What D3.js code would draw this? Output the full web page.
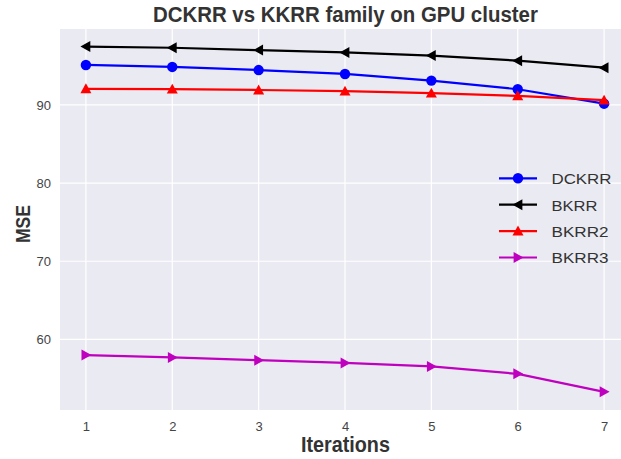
<!DOCTYPE html>
<html><head><meta charset="utf-8">
<script src="https://cdn.jsdelivr.net/npm/d3@7"></script>
<style>body{margin:0;background:#fff;}svg{display:block;}</style>
</head><body>
<svg id="c" width="621" height="459"></svg>
<script>
const iterations = [1,2,3,4,5,6,7];
const dckrr = [95.1, 94.85, 94.45, 93.95, 93.1, 92.0, 90.15];
const bkrr  = [97.45, 97.3, 97.0, 96.7, 96.3, 95.65, 94.75];
const bkrr2 = [92.05, 92.0, 91.9, 91.75, 91.5, 91.15, 90.6];
const bkrr3 = [58.0, 57.7, 57.35, 57.0, 56.55, 55.6, 53.3];
const yTicks = [60,70,80,90];
const seriesNames = ["DCKRR","BKRR","BKRR2","BKRR3"];

const series = [
  {name: seriesNames[0], values: dckrr, color: "#0000ff", marker: "circle", tl: 60},
  {name: seriesNames[1], values: bkrr,  color: "#000000", marker: "left", tl: 46},
  {name: seriesNames[2], values: bkrr2, color: "#ff0000", marker: "up", tl: 57},
  {name: seriesNames[3], values: bkrr3, color: "#bf00bf", marker: "right", tl: 57}
];

const svg = d3.select("#c");
const L = 60, T = 29, R = 630, B = 410;
const x = d3.scaleLinear().domain([0.7, 7.3]).range([L, R]);
const y = d3.scaleLinear().domain([50.98, 99.7]).range([B, T]);

svg.append("rect").attr("x", L).attr("y", T).attr("width", R - L).attr("height", B - T).attr("fill", "#eaeaf2");

// grid
svg.append("g").selectAll("line").data(iterations).join("line")
  .attr("x1", d => x(d)).attr("x2", d => x(d)).attr("y1", T).attr("y2", B)
  .attr("stroke", "#fff").attr("stroke-width", 1.2);
svg.append("g").selectAll("line").data(yTicks).join("line")
  .attr("x1", L).attr("x2", R).attr("y1", d => y(d)).attr("y2", d => y(d))
  .attr("stroke", "#fff").attr("stroke-width", 1.2);

// axes (labels only)
const xAxis = svg.append("g").attr("transform", `translate(0,${B})`)
  .call(d3.axisBottom(x).tickValues(iterations).tickSize(0).tickPadding(12).tickFormat(d3.format("d")));
const yAxis = svg.append("g").attr("transform", `translate(${L},0)`)
  .call(d3.axisLeft(y).tickValues(yTicks).tickSize(0).tickPadding(9).tickFormat(d3.format("d")));
[xAxis, yAxis].forEach(a => {
  a.select(".domain").remove();
  a.selectAll("text").attr("font-family", "'Liberation Sans Narrow', 'Liberation Sans', Arial, sans-serif")
    .attr("font-size", 13).attr("fill", "#444");
});

function markerPath(type, cx, cy) {
  const r = 5.5;
  if (type === "left") return `M${cx - r},${cy} L${cx + r * 0.8},${cy - r} L${cx + r * 0.8},${cy + r} Z`;
  if (type === "right") return `M${cx + r},${cy} L${cx - r * 0.8},${cy - r} L${cx - r * 0.8},${cy + r} Z`;
  return `M${cx},${cy - r} L${cx - r},${cy + r * 0.8} L${cx + r},${cy + r * 0.8} Z`;
}
function drawMarker(g, type, cx, cy, color) {
  if (type === "circle") g.append("circle").attr("cx", cx).attr("cy", cy).attr("r", 5.2).attr("fill", color);
  else g.append("path").attr("d", markerPath(type, cx, cy)).attr("fill", color);
}

const line = d3.line().x((d, i) => x(iterations[i])).y(d => y(d));
const plot = svg.append("g");
series.forEach(s => {
  plot.append("path").attr("d", line(s.values)).attr("fill", "none")
    .attr("stroke", s.color).attr("stroke-width", 2.2);
  const g = plot.append("g");
  s.values.forEach((v, i) => drawMarker(g, s.marker, x(iterations[i]), y(v), s.color));
});

// legend
const lg = svg.append("g");
series.forEach((s, i) => {
  const ly = 178.3 + i * 26.4;
  lg.append("line").attr("x1", 499).attr("x2", 537).attr("y1", ly).attr("y2", ly)
    .attr("stroke", s.color).attr("stroke-width", 2.2);
  drawMarker(lg, s.marker, 518, ly, s.color);
  lg.append("text").attr("x", 551.5).attr("y", ly + 5.8)
    .attr("font-family", "'Liberation Sans', Arial, sans-serif").attr("font-size", 15.5)
    .attr("textLength", s.tl).attr("lengthAdjust", "spacingAndGlyphs")
    .attr("fill", "#333").text(s.name);
});

// titles
const bold = t => t.attr("font-family", "'Liberation Sans', Arial, sans-serif").attr("font-weight", "bold")
  .attr("fill", "#333").attr("lengthAdjust", "spacingAndGlyphs");
bold(svg.append("text").attr("x", 345.4).attr("y", 22.3).attr("text-anchor", "middle")
  .attr("font-size", 21.5).attr("textLength", 385)).text("DCKRR vs KKRR family on GPU cluster");
bold(svg.append("text").attr("x", 345.4).attr("y", 452.3).attr("text-anchor", "middle")
  .attr("font-size", 21.5).attr("textLength", 89)).text("Iterations");
bold(svg.append("text").attr("transform", "translate(30,224) rotate(-90)").attr("text-anchor", "middle")
  .attr("font-size", 21).attr("textLength", 38)).text("MSE");
</script>
</body></html>
